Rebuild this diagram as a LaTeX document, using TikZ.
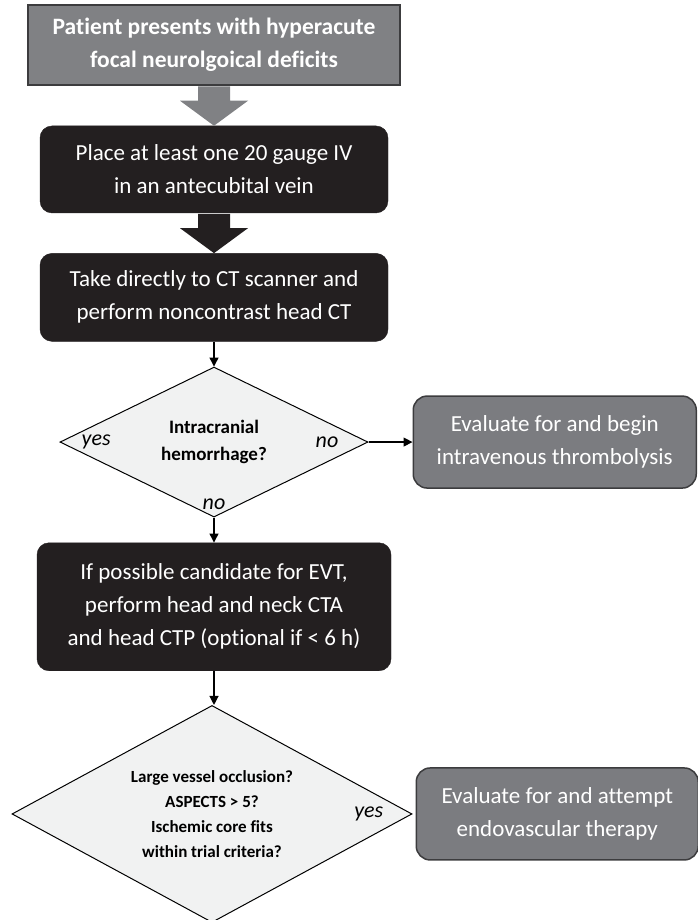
\documentclass[tikz,border=0pt]{standalone}
\usepackage{fontspec}
\setmainfont{Carlito}[Ligatures={NoCommon}]
\usetikzlibrary{shapes.geometric,arrows.meta,positioning,calc}

\definecolor{headgray}{RGB}{128,129,132}
\definecolor{headedge}{RGB}{60,60,62}
\definecolor{boxgray}{RGB}{123,124,128}
\definecolor{boxblack}{RGB}{35,31,32}
\definecolor{queryfill}{RGB}{241,242,242}

\begin{document}
\begin{tikzpicture}[
    font=\fontsize{23}{33}\selectfont,
    node distance=40pt,
    darkbox/.style={fill=boxblack, draw=boxblack, text=white, rounded corners=12pt, minimum width=348pt, align=center, inner sep=0pt},
    greybox/.style={fill=boxgray, draw=headedge, line width=1.5pt, text=white, rounded corners=14pt, minimum width=283pt, minimum height=92pt, align=center, inner sep=0pt},
    query/.style={diamond, aspect=2, draw=black, line width=1pt, fill=queryfill, inner sep=0pt, align=center, font=\bfseries\fontsize{19}{27}\selectfont},
    answer/.style={font=\itshape\fontsize{22}{26}\selectfont, inner sep=0pt},
    link/.style={-{Triangle[length=9pt,width=9pt]}, line width=1.2pt}
]
\useasboundingbox (0,0) rectangle (698pt,-920pt);

\node[fill=headgray, draw=headedge, line width=1.5pt, text=white, font=\bfseries\fontsize{23.5}{33}\selectfont, minimum width=372pt, minimum height=80pt, align=center, inner sep=0pt] (patient) at (214pt,-45pt) {Patient presents with hyperacute\\focal neurolgoical deficits};
\node[darkbox, minimum height=87pt, below=of patient] (iv) {Place at least one 20 gauge IV\\in an antecubital vein};
\node[darkbox, minimum height=88pt, below=of iv] (ct) {Take directly to CT scanner and\\perform noncontrast head CT};
\node[query, minimum width=308pt, minimum height=150pt, below=25pt of ct] (bleed) {Intracranial\\hemorrhage?};
\node[greybox, right=44pt of bleed] (lysis) {Evaluate for and begin\\intravenous thrombolysis};
\node[darkbox, minimum width=354pt, minimum height=128pt, below=25pt of bleed] (cta) {If possible candidate for EVT,\\perform head and neck CTA\\and head CTP (optional if < 6 h)};
\node[query, minimum width=400pt, minimum height=217pt, font=\bfseries\fontsize{17}{25}\selectfont, below=34pt of cta, xshift=-2pt] (vessel) {Large vessel occlusion?\\ASPECTS > 5?\\Ischemic core fits\\within trial criteria?};
\node[greybox, minimum width=282pt, right=3pt of vessel] (evt) {Evaluate for and attempt\\endovascular therapy};

% yes / no answers
\node[answer, anchor=west] (yes1) at ($(bleed.west)+(22pt,0)$) {yes};
\node[answer, anchor=east] (no1) at ($(bleed.east)+(-30pt,0)$) {no};
\node[answer] (no2) at ($(bleed.south)+(0,13pt)$) {no};
\node[answer, anchor=east] (yes2) at ($(vessel.east)+(-29pt,0)$) {yes};

% block arrows
\foreach \a/\b/\c in {patient/iv/headgray, iv/ct/boxblack}
  \fill[\c] ($(\a.south)+(-16pt,-0.7pt)$) -- ($(\a.south)+(-16pt,-15pt)$) -- ($(\a.south)+(-34pt,-15pt)$)
    -- (\a.south|-\b.north) -- ($(\a.south)+(34pt,-15pt)$) -- ($(\a.south)+(16pt,-15pt)$) -- ($(\a.south)+(16pt,-0.7pt)$) -- cycle;

\draw[link] (ct.south) -- (bleed.north);
\draw[link] (bleed.east) -- (lysis.west);
\draw[link] (bleed.south) -- (cta.north);
\draw[link] (cta.south) -- (cta.south|-vessel.north);
\end{tikzpicture}
\end{document}
